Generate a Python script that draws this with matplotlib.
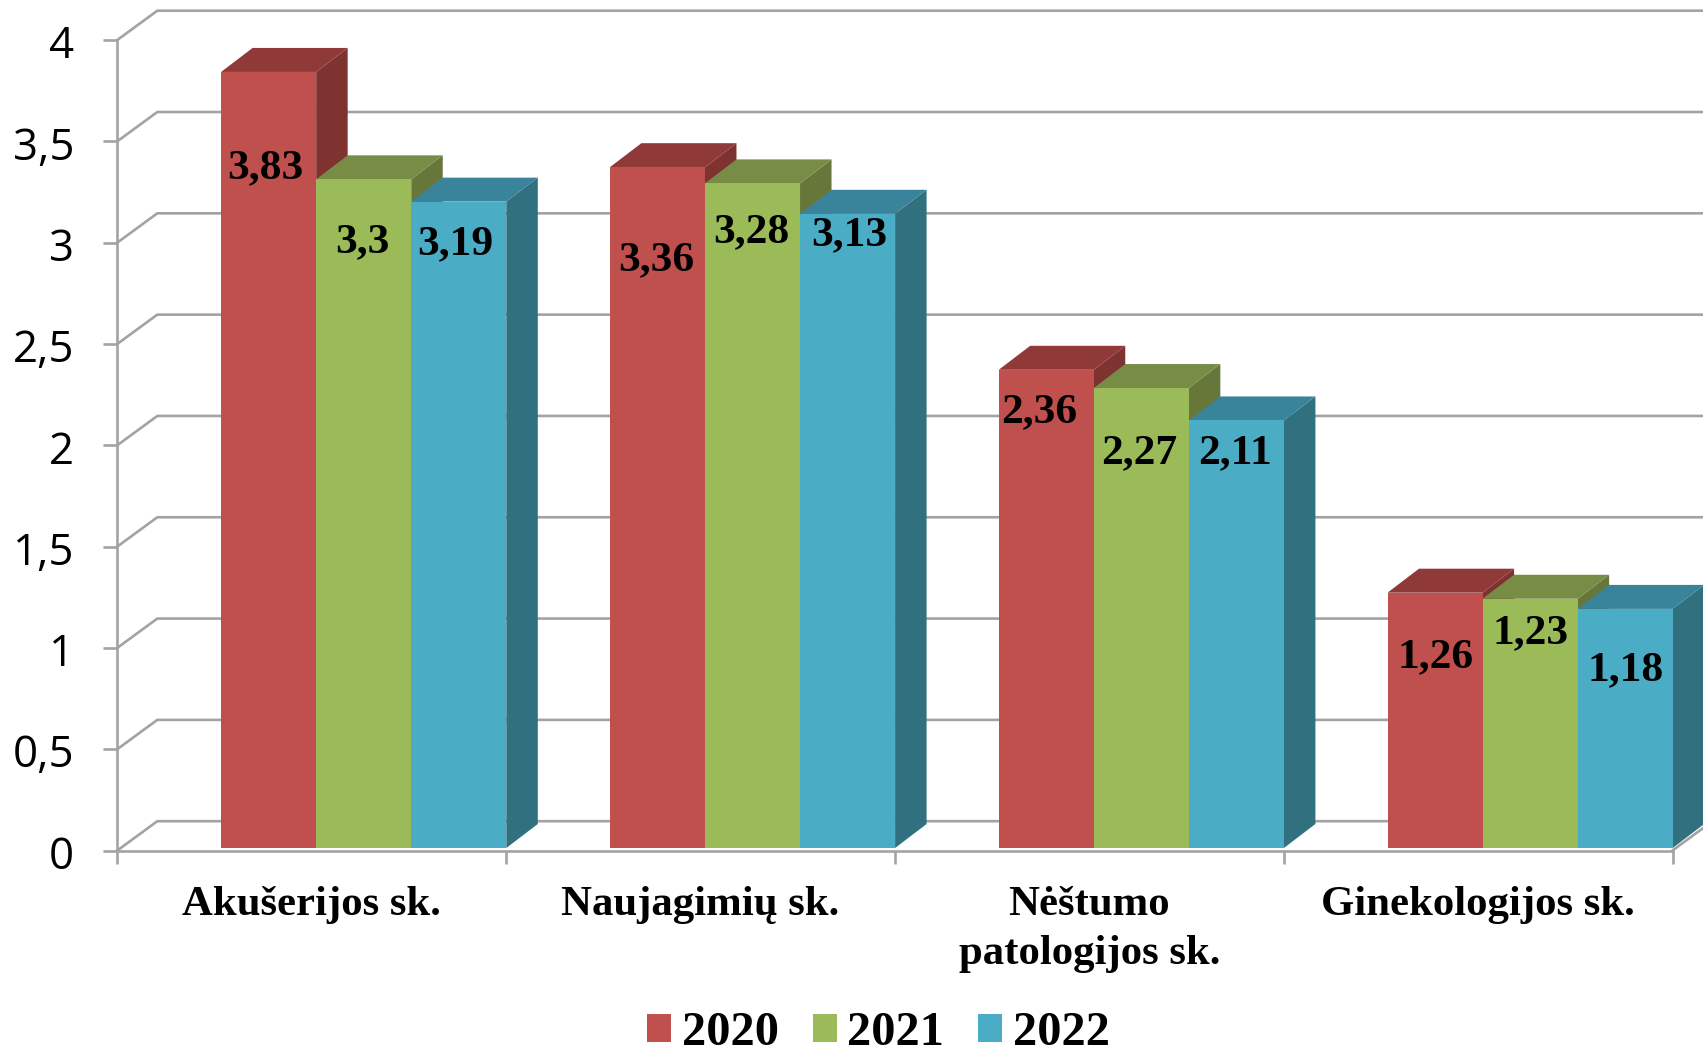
import matplotlib

matplotlib.use("Agg")
import matplotlib.pyplot as plt
import numpy as np
from matplotlib.patches import Patch, Polygon
from matplotlib.transforms import ScaledTranslation

CATEGORIES = ["Akušerijos sk.", "Naujagimių sk.", "Nėštumo\npatologijos sk.", "Ginekologijos sk."]
YEARS = ["2020", "2021", "2022"]
V2020 = [3.83, 3.36, 2.36, 1.26]
V2021 = [3.30, 3.28, 2.27, 1.23]
V2022 = [3.19, 3.13, 2.11, 1.18]
LABELS_2020 = ["3,83", "3,36", "2,36", "1,26"]
LABELS_2021 = ["3,3", "3,28", "2,27", "1,23"]
LABELS_2022 = ["3,19", "3,13", "2,11", "1,18"]
YTICKS = [0, 0.5, 1, 1.5, 2, 2.5, 3, 3.5, 4]
YTICK_LABELS = ["0", "0,5", "1", "1,5", "2", "2,5", "3", "3,5", "4"]

# how far each value label sits under its bar top (y units), hand placed in the original
DROP_2020 = [0.463, 0.448, 0.198, 0.308]
DROP_2021 = [0.298, 0.228, 0.308, 0.158]
DROP_2022 = [0.198, 0.093, 0.148, 0.288]
SHIFT_2020 = [-0.008, -0.003, -0.018, 0.002]
SHIFT_2021 = [-0.003, -0.003, -0.005, 0]
SHIFT_2022 = [-0.008, 0.005, -0.003, 0]

FRONT = ["#C0504D", "#9BBB59", "#4BACC6"]
TOP = ["#8F3A38", "#778D45", "#39839B"]
SIDE = ["#7F3331", "#67773A", "#31707F"]
GRID = "#A3A3A3"
LW = 1.9

W, H = 1703, 1047
L, R, B, T = 117.3, 1672.5, 850.5, 40.0  # plot box in pixels
fig = plt.figure(figsize=(W / 100, H / 100), dpi=100)
ax = fig.add_axes([L / W, 1 - B / H, (R - L) / W, (B - T) / H])
ax.set_xlim(0, 4)
ax.set_ylim(0, 4)

XU = (R - L) / 4  # pixels per x unit
YU = (B - T) / 4  # pixels per y unit
WALL_DX, WALL_DY = 40 / XU, 29.3 / YU  # wall depth of the fake 3d
BAR_DX, BAR_DY = 31.5 / XU, 24 / YU  # bars are shallower than the wall
BASE = 2.5 / YU  # bars float just over the axis line
START, BW = 0.267, 0.2445

# back wall grid
for y in YTICKS:
    ax.plot([0, WALL_DX, 4 + WALL_DX], [y, y + WALL_DY, y + WALL_DY], color=GRID, lw=LW,
            clip_on=False, zorder=1, solid_joinstyle="miter")
ax.plot([4, 4 + WALL_DX], [0, WALL_DY], color=GRID, lw=LW, clip_on=False, zorder=1)

series = [V2020, V2021, V2022]
drops = [DROP_2020, DROP_2021, DROP_2022]
shifts = [SHIFT_2020, SHIFT_2021, SHIFT_2022]
labels = [LABELS_2020, LABELS_2021, LABELS_2022]
z = 2
for c in range(len(CATEGORIES)):
    for s, vals in enumerate(series):
        x0 = c + START + s * BW
        x1 = x0 + BW
        v = vals[c] + BASE
        ax.add_patch(Polygon([(x1, BASE), (x1 + BAR_DX, BASE + BAR_DY), (x1 + BAR_DX, v + BAR_DY), (x1, v)],
                             closed=True, facecolor=SIDE[s], edgecolor="none", clip_on=False, zorder=z))
        ax.add_patch(Polygon([(x0, v), (x0 + BAR_DX, v + BAR_DY), (x1 + BAR_DX, v + BAR_DY), (x1, v)],
                             closed=True, facecolor=TOP[s], edgecolor="none", clip_on=False, zorder=z))
        ax.bar(x0, vals[c], BW, bottom=BASE, align="edge", color=FRONT[s], zorder=z + 0.5)
        z += 1

for c in range(len(CATEGORIES)):
    for s, vals in enumerate(series):
        ax.text(c + START + (s + 0.5) * BW + shifts[s][c], vals[c] - drops[s][c], labels[s][c],
                ha="center", va="center", family="Liberation Serif", weight="bold",
                fontsize=31.3, color="black", zorder=100)

for side in ("top", "right"):
    ax.spines[side].set_visible(False)
for side in ("left", "bottom"):
    ax.spines[side].set_color(GRID)
    ax.spines[side].set_linewidth(LW)
    ax.spines[side].set_zorder(50)

ax.set_yticks(YTICKS)
ax.set_yticklabels(YTICK_LABELS, family="Open Sans", fontsize=31.5)
ax.tick_params(axis="y", length=10, width=LW, color=GRID, pad=21)
for lab in ax.get_yticklabels():
    lab.set_transform(lab.get_transform() + ScaledTranslation(0, -1.5 / 100, fig.dpi_scale_trans))
ax.set_xticks(range(5))
ax.set_xticklabels([])
ax.tick_params(axis="x", which="major", length=9, width=LW, color=GRID)
ax.set_xticks(np.arange(len(CATEGORIES)) + 0.5, minor=True)
ax.set_xticklabels(CATEGORIES, minor=True, family="Liberation Serif", weight="bold", fontsize=30.8,
                   linespacing=1.37)
ax.tick_params(axis="x", which="minor", length=0, pad=25.5)

handles = [Patch(facecolor=FRONT[i], label=YEARS[i]) for i in range(3)]
fig.legend(handles=handles, loc="center", bbox_to_anchor=(878.5 / W, 1 - 1033 / H), ncol=3, frameon=False,
           prop={"family": "Liberation Serif", "weight": "bold", "size": 34.8},
           handlelength=0.5, handleheight=0.53, handletextpad=0.22, columnspacing=0.7)

fig.savefig("out.png", dpi=100)
